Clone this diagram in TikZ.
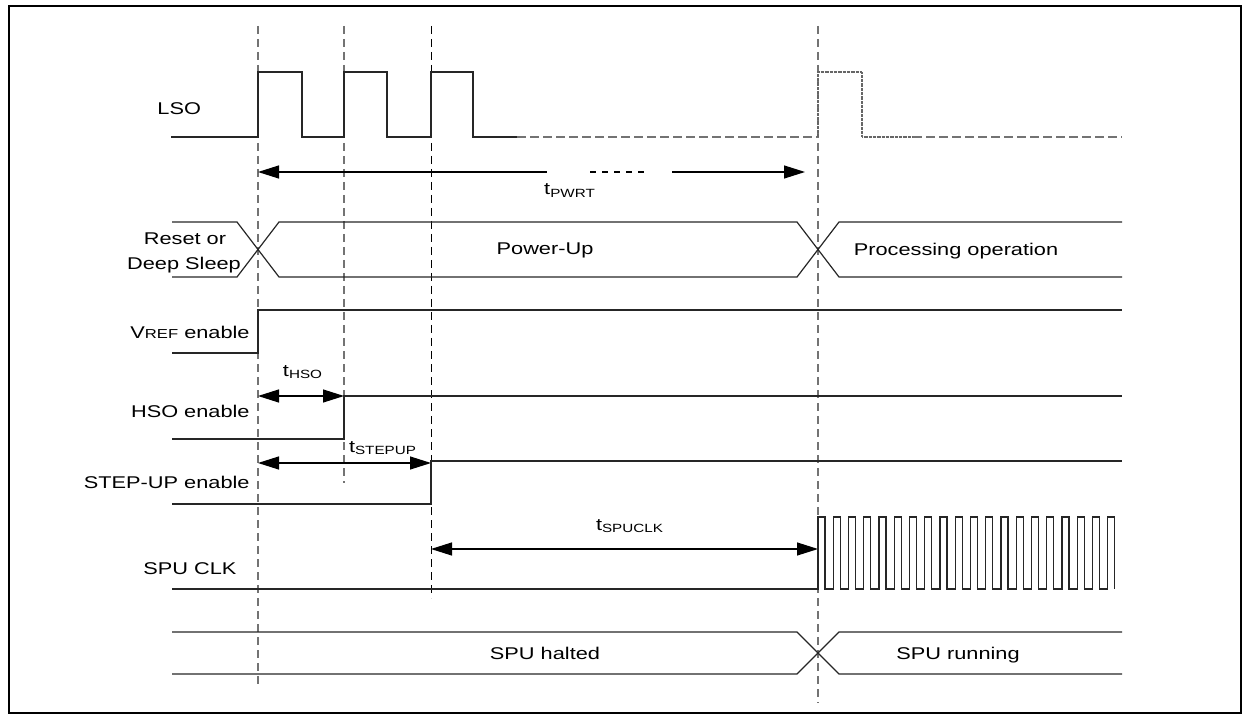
\documentclass[tikz,border=0pt]{standalone}
\usepackage{fontspec}
\setmainfont{Liberation Sans}[FakeStretch=1.28]
\usetikzlibrary{arrows.meta}
\begin{document}
\begin{tikzpicture}[x=0.5pt,y=-0.5pt,
  sig/.style={line width=0.6pt, black!85},
  guide/.style={line width=0.7pt, black!55, dash pattern=on 4pt off 2.5pt},
  guidek/.style={line width=0.5pt, black, dash pattern=on 4pt off 2.5pt},
  hdash/.style={line width=0.7pt, black!55, dash pattern=on 4.5pt off 2pt},
  dotsig/.style={line width=0.6pt, black!60, dash pattern=on 0.4pt off 0.25pt},
  lbl/.style={inner sep=0pt, font=\fontsize{8.5}{10.2}\selectfont},
  dim/.style={line width=0.6pt, black, {Triangle[length=10.5pt,width=6.5pt]}-{Triangle[length=10.5pt,width=6.5pt]}},
]
\useasboundingbox (0,0) rectangle (1251,721);
\draw[line width=1.1pt] (9,6) rectangle (1241,713);

% guide lines
\draw[guide] (258,26) -- (258,685);
\draw[guide] (344,26) -- (344,483);
\draw[guidek] (431,26) -- (431,598);
\draw[guide] (818,26) -- (818,703);

% LSO
\node[lbl, anchor=base west] (lso) at (157,115) {LSO};
\draw[sig] (171,137) -- (258,137) -- (258,72) -- (302,72) -- (302,137) -- (344,137) -- (344,72) -- (387,72) -- (387,137) -- (431,137) -- (431,72) -- (473,72) -- (473,137) -- (517,137);
\draw[hdash] (517,137) -- (818,137);
\draw[dotsig] (818,137) -- (818,72) -- (862,72) -- (862,137) -- (913,137);
\draw[hdash] (913,137) -- (1122,137);

% tPWRT
\coordinate (pw1) at (258,172);
\coordinate (pw2) at (547,172);
\coordinate (pw3) at (590,172);
\coordinate (pw4) at (647,172);
\coordinate (pw5) at (672,172);
\coordinate (pw6) at (805,172);
\draw[line width=0.6pt, {Triangle[length=10.5pt,width=6.5pt]}-] (pw1) -- (pw2);
\draw[line width=0.6pt, dash pattern=on 3pt off 3pt] (pw3) -- (pw4);
\draw[line width=0.6pt, -{Triangle[length=10.5pt,width=6.5pt]}] (pw5) -- (pw6);
\node[lbl, anchor=base] (tpwrt) at (570,195) {t\textsubscript{PWRT}};

% Reset / Power-Up bus
\draw[sig] (172,222) -- (237,222) -- (279,277) -- (797,277) -- (839,222) -- (1122,222);
\draw[sig] (172,277) -- (237,277) -- (279,222) -- (797,222) -- (839,277) -- (1122,277);
\node[lbl, anchor=base] (rst) at (185,245) {Reset or};
\node[lbl, anchor=base] (dsl) at (184,270) {Deep Sleep};
\node[lbl, anchor=base] (pup) at (545,255) {Power-Up};
\node[lbl, anchor=base] (proc) at (956,256) {Processing operation};

% VREF enable
\node[lbl, anchor=base east] (vref) at (250,338) {V{\fontsize{6.5}{7}\selectfont REF} enable};
\draw[sig] (172,353) -- (258,353) -- (258,310) -- (1122,310);

% tHSO
\coordinate (h1) at (258,396);
\coordinate (h2) at (344,396);
\draw[dim] (h1) -- (h2);
\node[lbl, anchor=base] (thso) at (303,376) {t\textsubscript{HSO}};

% HSO enable
\node[lbl, anchor=base east] (hso) at (250,417) {HSO enable};
\draw[sig] (172,439) -- (344,439) -- (344,396) -- (1122,396);

% tSTEPUP
\coordinate (s1) at (258,463);
\coordinate (s2) at (431,463);
\draw[dim] (s1) -- (s2);
\node[lbl, anchor=base] (tstep) at (383,452) {t\textsubscript{STEPUP}};

% STEP-UP enable
\node[lbl, anchor=base east] (step) at (250,488) {STEP-UP enable};
\draw[sig] (172,504) -- (431,504) -- (431,461) -- (1122,461);

% tSPUCLK
\coordinate (c1) at (431,549);
\coordinate (c2) at (818,549);
\draw[dim] (c1) -- (c2);
\node[lbl, anchor=base] (tspu) at (630,530) {t\textsubscript{SPUCLK}};

% SPU CLK
\node[lbl, anchor=base west] (spuclk) at (143,574) {SPU CLK};
\draw[sig] (172,589) foreach \i in {0,...,19} { -- ({818+15.25*\i},589) -- ({818+15.25*\i},517) -- ({825+15.25*\i},517) -- ({825+15.25*\i},589) };

% SPU halted / running bus
\draw[sig] (172,632) -- (797,632) -- (839,674) -- (1122,674);
\draw[sig] (172,674) -- (797,674) -- (839,632) -- (1122,632);
\node[lbl, anchor=base] (halt) at (545,659) {SPU halted};
\node[lbl, anchor=base] (run) at (958,659) {SPU running};
\end{tikzpicture}
\end{document}
